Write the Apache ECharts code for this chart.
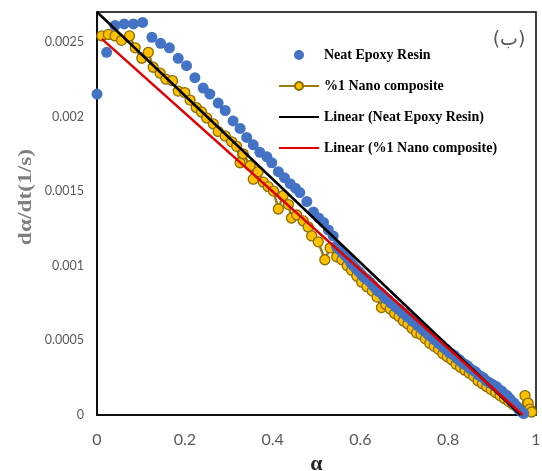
<!DOCTYPE html>
<html>
<head>
<meta charset="utf-8">
<script src="https://cdn.jsdelivr.net/npm/echarts@6/dist/echarts.min.js"></script>
<style>html,body{margin:0;padding:0;background:#fff}#c{width:542px;height:471px}</style>
</head>
<body>
<div id="c"></div>
<script>
// Neat Epoxy Resin (blue dots)
var neatX = [0, 0.022, 0.041, 0.062, 0.083, 0.104, 0.125, 0.145, 0.165, 0.185, 0.204, 0.223, 0.242, 0.257, 0.276, 0.292, 0.31, 0.326, 0.341, 0.356, 0.371, 0.387, 0.398, 0.413, 0.427, 0.44, 0.452, 0.462, 0.478, 0.493, 0.505, 0.516, 0.527, 0.538,
  0.545, 0.552, 0.558, 0.565, 0.571, 0.578, 0.584, 0.590, 0.597, 0.603, 0.609, 0.615, 0.622, 0.628, 0.634, 0.640, 0.646, 0.652, 0.658, 0.664, 0.670, 0.676, 0.682, 0.688, 0.694, 0.700, 0.706, 0.712, 0.718, 0.724, 0.730, 0.736, 0.742, 0.748, 0.754, 0.760, 0.766, 0.772, 0.778, 0.784, 0.790, 0.796, 0.802, 0.808, 0.814, 0.820, 0.826, 0.832, 0.838, 0.844, 0.850, 0.856, 0.862, 0.868, 0.874, 0.880, 0.886, 0.892, 0.898, 0.904, 0.910, 0.916, 0.922, 0.928, 0.934, 0.940, 0.945, 0.950, 0.955, 0.960, 0.964, 0.968, 0.972];
var neatY = [0.00215, 0.00243, 0.00261, 0.00262, 0.00262, 0.00263, 0.00253, 0.00249, 0.00246, 0.00239, 0.00234, 0.00226, 0.00219, 0.00215, 0.00209, 0.00204, 0.00197, 0.00192, 0.00186, 0.00181, 0.00176, 0.00173, 0.00169, 0.00163, 0.00159, 0.00155, 0.00152, 0.00149, 0.00143, 0.00136, 0.00132, 0.00129, 0.00124, 0.00120,
  0.00113, 0.00111, 0.00109, 0.00107, 0.00105, 0.00102, 0.00100, 0.00098, 0.00096, 0.00094, 0.00092, 0.00091, 0.00089, 0.00087, 0.00085, 0.00083, 0.00082, 0.00080, 0.00078, 0.00077, 0.00075, 0.00074, 0.00072, 0.00071, 0.00069, 0.00068, 0.00066, 0.00065, 0.00063, 0.00062, 0.00060, 0.00059, 0.00057, 0.00056, 0.00054, 0.00053, 0.00051, 0.00050, 0.00048, 0.00047, 0.00045, 0.00044, 0.00042, 0.00041, 0.00040, 0.00038, 0.00037, 0.00035, 0.00034, 0.00033, 0.00031, 0.00030, 0.00029, 0.00027, 0.00026, 0.00025, 0.00023, 0.00022, 0.00021, 0.00020, 0.00019, 0.00017, 0.00016, 0.00014, 0.00013, 0.00011, 0.00009, 0.00008, 0.00006, 0.00004, 0.00003, 0.00002, 0.00001];

// %1 Nano composite (gold markers with line)
var nanoX = [0.011, 0.026, 0.041, 0.056, 0.074, 0.087, 0.102, 0.117, 0.128, 0.144, 0.157, 0.172, 0.185, 0.2, 0.212, 0.226, 0.238, 0.25, 0.265, 0.276, 0.292, 0.307, 0.318, 0.326, 0.333, 0.349, 0.356, 0.367, 0.379, 0.39, 0.402, 0.413, 0.424, 0.436, 0.443, 0.455, 0.47, 0.481, 0.489, 0.504, 0.519, 0.531, 0.546,
  0.558, 0.570, 0.580, 0.592, 0.603, 0.615, 0.627, 0.638, 0.648, 0.658, 0.668, 0.678, 0.688, 0.698, 0.708, 0.718, 0.728, 0.738, 0.748, 0.758, 0.768, 0.778, 0.788, 0.798, 0.808, 0.818, 0.828, 0.838, 0.848, 0.858, 0.868, 0.878, 0.888, 0.898, 0.908, 0.918, 0.928, 0.938, 0.948, 0.958, 0.966, 0.975, 0.982, 0.986, 0.99];
var nanoY = [0.00254, 0.00255, 0.00254, 0.00251, 0.00254, 0.00246, 0.00239, 0.00243, 0.00233, 0.00229, 0.00225, 0.00224, 0.00217, 0.00216, 0.00211, 0.00206, 0.00203, 0.00199, 0.00195, 0.0019, 0.00187, 0.00183, 0.0018, 0.00169, 0.00175, 0.00167, 0.00158, 0.00163, 0.00156, 0.00153, 0.0015, 0.00138, 0.00147, 0.00141, 0.00132, 0.00134, 0.0013, 0.00126, 0.0012, 0.00116, 0.00104, 0.00112, 0.00106,
  0.00104, 0.00100, 0.00097, 0.00093, 0.00089, 0.00086, 0.00083, 0.00079, 0.00072, 0.00074, 0.00071, 0.00068, 0.00066, 0.00063, 0.00061, 0.00058, 0.00055, 0.00054, 0.00051, 0.00048, 0.00046, 0.00044, 0.00041, 0.00039, 0.00037, 0.00034, 0.00032, 0.00030, 0.00028, 0.00026, 0.00023, 0.00021, 0.00019, 0.00017, 0.00015, 0.00013, 0.00011, 0.00009, 0.00007, 0.00005, 0.00003, 0.00013, 0.00008, 0.00004, 0.00002];

// Linear trend lines (end points)
var linNeatX = [0, 0.965];
var linNeatY = [0.0027, 0];
var linNanoX = [0.011, 0.97];
var linNanoY = [0.00252, 0];

var xTicks = {min: 0, max: 1, interval: 0.2};
var yTicks = {min: 0, max: 0.0027, interval: 0.0005};

function pairs(xs, ys) { return xs.map(function (x, i) { return [x, ys[i]]; }); }

var chart = echarts.init(document.getElementById('c'), null, {renderer: 'canvas'});
var serif = '"Liberation Serif", "Times New Roman", serif';
chart.setOption({
  animation: false,
  backgroundColor: '#fff',
  grid: {left: 97, right: 6, top: 12, bottom: 56, outerBoundsMode: 'none', containLabel: false,
    show: true, borderColor: '#000', borderWidth: 1.5, backgroundColor: 'transparent'},
  xAxis: {
    type: 'value', min: xTicks.min, max: xTicks.max, interval: xTicks.interval,
    name: 'α', nameLocation: 'middle', nameGap: 37,
    nameTextStyle: {fontFamily: serif, fontWeight: 'bold', fontSize: 22, color: '#262626'},
    axisLine: {show: true, lineStyle: {color: '#000', width: 1.5}},
    axisTick: {show: false}, splitLine: {show: false},
    axisLabel: {color: '#595959', fontFamily: 'Lato', fontSize: 16, margin: 17}
  },
  yAxis: {
    type: 'value', min: yTicks.min, max: yTicks.max, interval: yTicks.interval,
    axisLine: {show: true, lineStyle: {color: '#000', width: 1.5}},
    axisTick: {show: false}, splitLine: {show: false},
    axisLabel: {color: '#595959', fontFamily: 'Lato', fontSize: 12.5, margin: 13, showMaxLabel: false}
  },
  legend: {
    orient: 'vertical', left: 278, top: 48, padding: 0,
    itemWidth: 40, itemHeight: 10, itemGap: 17,
    textStyle: {fontFamily: serif, fontWeight: 'bold', fontSize: 14, color: '#000', lineHeight: 14},
    data: [
      'Neat Epoxy Resin',
      '%1 Nano composite',
      {name: 'Linear (Neat Epoxy Resin)', itemStyle: {opacity: 0}},
      {name: 'Linear (%1 Nano composite)', itemStyle: {opacity: 0}}
    ]
  },
  graphic: [
    {type: 'text', x: 26, y: 197, rotation: Math.PI / 2, scaleX: 1.3,
      style: {text: 'dα/dt(1/s)', font: 'bold 18px ' + serif, fill: '#7f7f7f', textAlign: 'center', textVerticalAlign: 'middle'}},
    {type: 'text', x: 509, y: 40,
      style: {text: '(ب)', font: '19px "DejaVu Sans"', fill: '#595959', textAlign: 'center', textVerticalAlign: 'middle'}}
  ],
  series: [
    {
      name: '%1 Nano composite', type: 'line', data: pairs(nanoX, nanoY), z: 2,
      symbol: 'circle', symbolSize: 10, showSymbol: true, clip: false,
      lineStyle: {color: '#9C7A10', width: 2.5},
      itemStyle: {color: '#FFC000', borderColor: '#8C6D00', borderWidth: 1.3}
    },
    {
      name: 'Neat Epoxy Resin', type: 'scatter', data: pairs(neatX, neatY), z: 3,
      symbol: 'circle', symbolSize: 11, clip: false,
      itemStyle: {color: '#4472C4', opacity: 1}
    },
    {
      name: 'Linear (Neat Epoxy Resin)', type: 'line', data: pairs(linNeatX, linNeatY), z: 4,
      symbol: 'none', showSymbol: false,
      lineStyle: {color: '#000', width: 2.5}, itemStyle: {color: '#000'}
    },
    {
      name: 'Linear (%1 Nano composite)', type: 'line', data: pairs(linNanoX, linNanoY), z: 5,
      symbol: 'none', showSymbol: false,
      lineStyle: {color: '#E00000', width: 2.5}, itemStyle: {color: '#E00000'}
    }
  ]
});
</script>
</body>
</html>
